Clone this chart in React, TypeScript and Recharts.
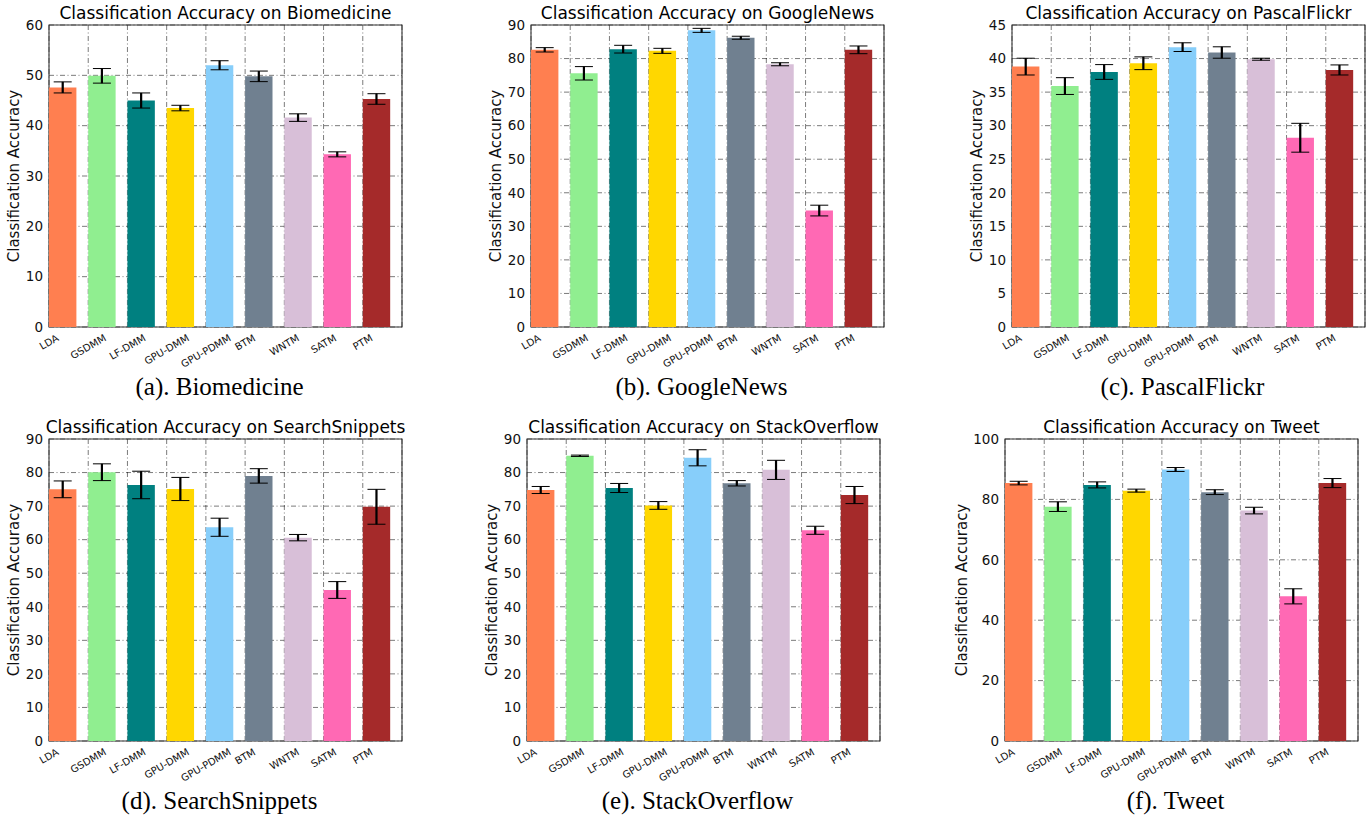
import React from 'react';
import { BarChart, Bar, XAxis, YAxis, CartesianGrid, ErrorBar, Cell, ReferenceArea } from 'recharts';

const models = ['LDA', 'GSDMM', 'LF-DMM', 'GPU-DMM', 'GPU-PDMM', 'BTM', 'WNTM', 'SATM', 'PTM'];
const barColors = ['#FF7F50', '#90EE90', '#008080', '#FFD700', '#87CEFA', '#708090', '#D8BFD8', '#FF69B4', '#A52A2A'];

const biomedAcc = [47.6, 49.9, 45.0, 43.5, 52.0, 49.8, 41.6, 34.3, 45.3];
const biomedErr = [1.1, 1.45, 1.5, 0.55, 0.9, 1.05, 0.75, 0.5, 1.05];
const biomedTicks = [0, 10, 20, 30, 40, 50, 60];

const newsAcc = [82.6, 75.6, 82.8, 82.3, 88.4, 86.2, 78.3, 34.7, 82.6];
const newsErr = [0.65, 2.0, 1.15, 0.75, 0.6, 0.45, 0.45, 1.6, 1.15];
const newsTicks = [0, 10, 20, 30, 40, 50, 60, 70, 80, 90];

const flickrAcc = [38.8, 35.9, 38.0, 39.3, 41.7, 40.9, 39.9, 28.2, 38.3];
const flickrErr = [1.25, 1.25, 1.1, 0.95, 0.65, 0.85, 0.15, 2.15, 0.75];
const flickrTicks = [0, 5, 10, 15, 20, 25, 30, 35, 40, 45];

const snippetsAcc = [75.0, 80.1, 76.3, 75.1, 63.7, 79.0, 60.6, 45.0, 69.8];
const snippetsErr = [2.5, 2.5, 4.1, 3.45, 2.7, 2.15, 0.95, 2.5, 5.2];
const snippetsTicks = [0, 10, 20, 30, 40, 50, 60, 70, 80, 90];

const stackAcc = [74.8, 85.0, 75.4, 70.2, 84.4, 76.8, 80.8, 62.8, 73.3];
const stackErr = [1.05, 0.2, 1.35, 1.15, 2.4, 0.8, 2.85, 1.2, 2.55];
const stackTicks = [0, 10, 20, 30, 40, 50, 60, 70, 80, 90];

const tweetAcc = [85.4, 77.6, 84.8, 82.9, 89.9, 82.4, 76.3, 47.9, 85.4];
const tweetErr = [0.6, 1.6, 1.0, 0.5, 0.65, 0.8, 1.1, 2.5, 1.5];
const tweetTicks = [0, 20, 40, 60, 80, 100];

const tickSlots = [0, 1, 2, 3, 4, 5, 6, 7, 8];

const PW = 353;
const PH = 302;
const TOPPAD = 10;
const font = '"DejaVu Sans", sans-serif';

const panels = [
  { title: 'Classification Accuracy on Biomedicine', caption: '(a). Biomedicine', acc: biomedAcc, err: biomedErr, ticks: biomedTicks, left: 49, top: 25, yw: 70 },
  { title: 'Classification Accuracy on GoogleNews', caption: '(b). GoogleNews', acc: newsAcc, err: newsErr, ticks: newsTicks, left: 531, top: 25, yw: 70 },
  { title: 'Classification Accuracy on PascalFlickr', caption: '(c). PascalFlickr', acc: flickrAcc, err: flickrErr, ticks: flickrTicks, left: 1012, top: 25, yw: 70 },
  { title: 'Classification Accuracy on SearchSnippets', caption: '(d). SearchSnippets', acc: snippetsAcc, err: snippetsErr, ticks: snippetsTicks, left: 49, top: 439, yw: 70 },
  { title: 'Classification Accuracy on StackOverflow', caption: '(e). StackOverflow', acc: stackAcc, err: stackErr, ticks: stackTicks, left: 527, top: 439, yw: 70 },
  { title: 'Classification Accuracy on Tweet', caption: '(f). Tweet', acc: tweetAcc, err: tweetErr, ticks: tweetTicks, left: 1005, top: 439, yw: 86 },
];

// rough DejaVu Sans advance widths, used to place the rotated labels like matplotlib does
const glyphW: Record<string, number> = {
  L: 0.557, D: 0.77, A: 0.684, G: 0.775, S: 0.635, M: 0.863, F: 0.575, '-': 0.361,
  P: 0.603, U: 0.732, B: 0.686, T: 0.611, W: 0.989, N: 0.748,
};

const ModelTick = (props: any) => {
  const { x, payload, axisY } = props;
  const name = models[payload.value];
  if (!name) return null;
  const fs = 10;
  const len = name.split('').reduce((s: number, c: string) => s + (glyphW[c] ?? 0.7), 0) * fs;
  const cy = axisY + 5 + (len * 0.5 + fs * 1.16 * 0.866) / 2;
  return (
    <text
      x={x}
      y={cy}
      textAnchor="middle"
      dominantBaseline="central"
      transform={`rotate(-30 ${x} ${cy})`}
      fontSize={fs}
      fontFamily={font}
      fill="#111"
    >
      {name}
    </text>
  );
};

const Panel = ({ p }: { p: typeof panels[number] }) => {
  const rows = models.map((name, i) => ({ name, idx: i, value: p.acc[i], err: p.err[i], pad: 0 }));
  const ymax = p.ticks[p.ticks.length - 1];
  return (
    <>
      <div
        style={{
          position: 'absolute', left: p.left - 20, top: p.top - 20, width: PW + 40, textAlign: 'center',
          fontFamily: font, fontSize: 17, lineHeight: '17px', color: '#000', whiteSpace: 'nowrap',
        }}
      >
        {p.title}
      </div>
      <div style={{ position: 'absolute', left: p.left - p.yw, top: p.top - TOPPAD }}>
        <BarChart
          width={p.yw + PW + 8}
          height={TOPPAD + PH + 46}
          data={rows}
          margin={{ top: TOPPAD, right: 8, bottom: 0, left: 0 }}
          barGap={0}
          barCategoryGap={0}
        >
          <CartesianGrid
            xAxisId="num"
            stroke="#000"
            strokeOpacity={0.75}
            strokeWidth={0.7}
            strokeDasharray="5 2.5 1 2.5"
          />
          <XAxis xAxisId="cat" dataKey="name" type="category" hide />
          <XAxis
            xAxisId="num"
            dataKey="idx"
            type="number"
            domain={[0, 9]}
            ticks={tickSlots}
            allowDataOverflow
            height={46}
            axisLine={false}
            tickLine={false}
            interval={0}
            tick={(tp: any) => <ModelTick {...tp} axisY={TOPPAD + PH} />}
          />
          <YAxis
            type="number"
            domain={[0, ymax]}
            ticks={p.ticks}
            allowDataOverflow
            width={p.yw}
            axisLine={false}
            tickLine={false}
            tickSize={4}
            tickMargin={2}
            interval={0}
            tick={{ fontSize: 13.5, fontFamily: font, fill: '#111' }}
            label={{
              value: 'Classification Accuracy',
              angle: -90,
              position: 'center',
              style: { fontSize: 15, fontFamily: font, fill: '#111', textAnchor: 'middle' },
            }}
          />
          <Bar xAxisId="cat" dataKey="value" barSize={27.4} isAnimationActive={false}>
            {rows.map((r, i) => (
              <Cell key={r.name} fill={barColors[i]} />
            ))}
            <ErrorBar dataKey="err" direction="y" width={9} stroke="#000" strokeWidth={1} isAnimationActive={false} />
            <ErrorBar dataKey="err" direction="y" width={0} stroke="#000" strokeWidth={2.2} isAnimationActive={false} />
          </Bar>
          <Bar xAxisId="cat" dataKey="pad" barSize={11} fill="none" isAnimationActive={false} />
          <ReferenceArea
            xAxisId="num"
            x1={0}
            x2={9}
            y1={0}
            y2={ymax}
            fill="none"
            stroke="#333"
            strokeWidth={1.1}
            strokeOpacity={1}
            ifOverflow="visible"
          />
        </BarChart>
      </div>
      <div
        style={{
          position: 'absolute', left: p.left - 6, top: p.top + 349, width: PW, textAlign: 'center',
          fontFamily: '"Liberation Serif", "Times New Roman", serif', fontSize: 25, lineHeight: '25px',
          color: '#000', whiteSpace: 'nowrap',
        }}
      >
        {p.caption}
      </div>
    </>
  );
};

export default function App() {
  return (
    <div style={{ position: 'absolute', left: 0, top: 0, width: 1370, height: 818, background: '#fff', overflow: 'hidden' }}>
      {panels.map((p) => (
        <Panel key={p.caption} p={p} />
      ))}
    </div>
  );
}
